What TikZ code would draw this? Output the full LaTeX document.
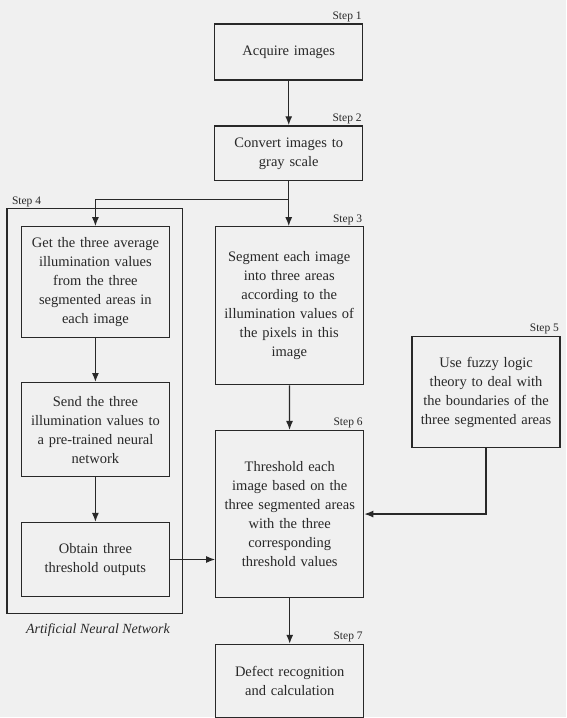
\documentclass[tikz,border=0pt]{standalone}
\usepackage{fontspec}
\setmainfont{Liberation Serif}
\usetikzlibrary{arrows.meta}
\definecolor{bg}{RGB}{240,240,240}
\definecolor{ln}{RGB}{40,40,40}
\begin{document}
\begin{tikzpicture}[x=1pt,y=-1pt,
  box/.style={draw=ln, line width=1.3pt, fill=bg, minimum width=148pt, text width=146pt,
    align=center, inner sep=0pt, text=ln, font=\fontsize{14.5}{19}\selectfont},
  steplbl/.style={font=\fontsize{11.5}{12}\selectfont, text=ln, inner sep=1.5pt},
  arr/.style={draw=ln, line width=1.3pt, -{Latex[length=9pt,width=7pt]}},
  ]
\fill[bg] (0,0) rectangle (567,718);
% outer ANN frame
\node[draw=ln, line width=1.3pt, minimum width=176pt, minimum height=405pt, inner sep=0pt] (ann) at (95,411.5) {};
\node[steplbl, anchor=south west] at ([xshift=4pt]ann.north west) {Step 4};
\node[font=\itshape\fontsize{14}{15}\selectfont, text=ln, anchor=north] (annlbl) at ([xshift=3pt,yshift=-6pt]ann.south) {Artificial Neural Network};

% main column
\node[box, minimum height=56pt] (s1) at (289,52) {Acquire images};
\node[box, minimum height=55pt] (s2) at (289,153.5) {Convert images to\\gray scale};
\node[box, minimum height=158pt] (s3) at (289.5,306) {Segment each image\\into three areas\\according to the\\illumination values of\\the pixels in this\\image};
\node[box, minimum height=167pt] (s6) at (290,514.5) {Threshold each\\image based on the\\three segmented areas\\with the three\\corresponding\\threshold values};
\node[box, minimum height=73pt] (s7) at (290,681.5) {Defect recognition\\and calculation};
\node[box, minimum height=111pt] (s5) at (486.5,392.5) {Use fuzzy logic\\theory to deal with\\the boundaries of the\\three segmented areas};

% ANN column
\node[box, minimum height=111pt] (get) at (95.5,282.5) {Get the three average\\illumination values\\from the three\\segmented areas in\\each image};
\node[box, minimum height=94pt] (send) at (95.5,430) {Send the three\\illumination values to\\a pre-trained neural\\network};
\node[box, minimum height=74pt] (obt) at (95.5,560) {Obtain three\\threshold outputs};

% step labels
\node[steplbl, anchor=south east] at (s1.north east) {Step 1};
\node[steplbl, anchor=south east] at (s2.north east) {Step 2};
\node[steplbl, anchor=south east] at (s3.north east) {Step 3};
\node[steplbl, anchor=south east] at (s5.north east) {Step 5};
\node[steplbl, anchor=south east] at (s6.north east) {Step 6};
\node[steplbl, anchor=south east] at (s7.north east) {Step 7};

% connectors
\coordinate (br) at (s2.south |- 0,200);
\draw[arr] (s1) -- (s2);
\draw[arr] (s2.south) -- (s2.south |- s3.north);
\draw[arr] (br) -| (get.north);
\draw[arr] (get) -- (send);
\draw[arr] (send) -- (obt);
\draw[arr] (obt.east) -- (obt.east -| s6.west);
\draw[arr] (s3) -- (s6);
\draw[arr] (s5.south) |- (s6.east);
\draw[arr] (s6) -- (s7);
\end{tikzpicture}
\end{document}
